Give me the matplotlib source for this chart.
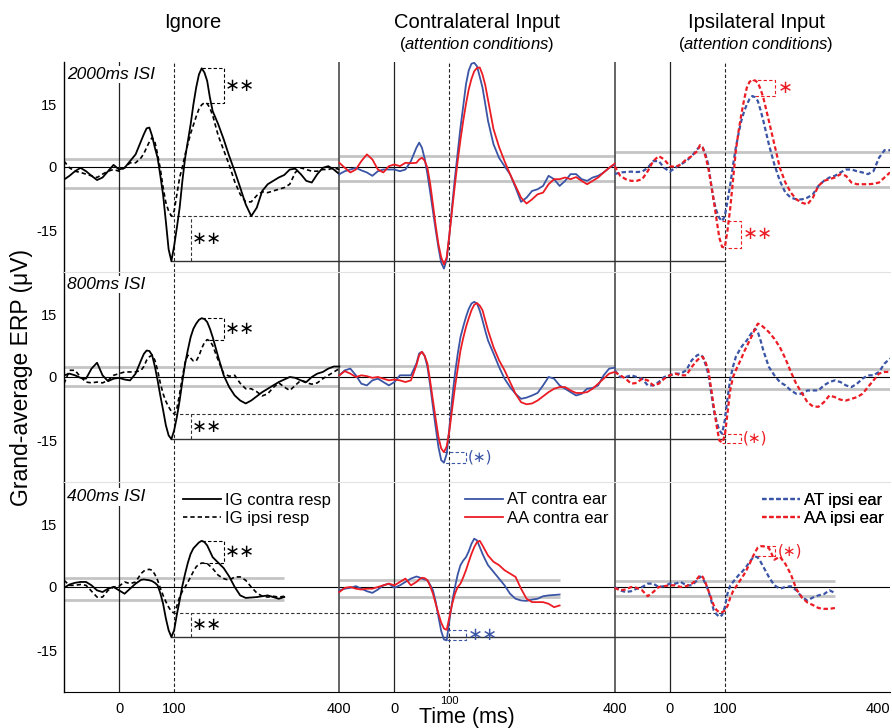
import numpy as np
import matplotlib
matplotlib.use('Agg')
import matplotlib.pyplot as plt
from matplotlib.lines import Line2D
from matplotlib.transforms import blended_transform_factory

plt.rcParams['font.family'] = ['Liberation Sans', 'DejaVu Sans']
plt.rcParams['mathtext.fontset'] = 'custom'
plt.rcParams['mathtext.it'] = 'Liberation Sans:italic'
plt.rcParams['mathtext.rm'] = 'Liberation Sans'

# ---------------- data ----------------
time = list(range(-100, 41, 10)) + list(range(45, 171, 5)) + list(range(180, 401, 10))
time_short = [t for t in time if t <= 300]

panel_titles = ['Ignore', 'Contralateral Input', 'Ipsilateral Input']
isi_labels = ['2000ms ISI', '800ms ISI', '400ms ISI']
legend_labels = [['IG contra resp', 'IG ipsi resp'],
                 ['AT contra ear', 'AA contra ear'],
                 ['AT ipsi ear', 'AA ipsi ear']]
xtick_labels = ['0', '100', '400', '0', '100', '400', '0', '100', '400']
ytick_labels = ['-15', '0', '15']

# row 1: 2000 ms ISI
r1_ig_contra = [-3, -2.1, -1, -0.2, -1, -2.1, -3.1, -2.5, -1, 0.5, -0.6, -0.2, 1.4, 3, 6.2,
                7.8, 9.2, 9.4, 7.4, 4.6, 2.2, -2.1, -6.7, -13, -19.6, -22.4, -18.8, -14.4, -9.7, -3.3, 2.2, 6.2, 10.2, 14.9, 18.9, 22, 23.5, 22.5, 20.5, 16.5, 13.3,
                10.2, 6.6, 2.6, -1, -4.9, -8.9, -11.7, -9.7, -5.7, -4.1, -3.3, -2.5, -1.9, -0.6, -0.4, -1.7, -3.3, -3.7, -1.7, -0.2, 0.2, -0.6, -1.7]
r1_ig_ipsi = [1.4, -0.2, -1, -1.3, -1.7, -2.1, -2.5, -1.7, -1, -0.6, -1, -0.2, 1, 1, 2.2,
              3.2, 4.6, 6, 7, 6, 3, -0.5, -4.9, -8.5, -10.5, -11.7, -10.5, -6.5, -2.5, 0, 3, 5.5, 8, 10, 12, 13.8, 14.8, 15.3, 15.1, 14, 12.3,
              7.5, 4, 0.5, -3.5, -6.5, -8.3, -8.3, -6.8, -5.9, -6.1, -5.7, -5.3, -4.9, -4.1, -1.3, -0.2, -0.6, -1, -1, -0.6, -0.6, -0.2, -0.6]
r1_at_contra = [-1.7, -1, -0.6, -0.2, -0.8, -1.3, -2.1, -1, -0.6, -0.6, -0.6, -1, -0.6, 1.4, 4.6,
                5.8, 4.6, 2, -1.7, -6, -10.5, -15, -19.2, -22.8, -24.2, -22, -16, -9, -2.5, 3.5, 9.4, 14.5, 19.7, 23, 24.6, 24.8, 24, 21.5, 18.9, 15, 11,
                5.4, 2.2, 0.2, -1.7, -4.9, -8.3, -7.3, -5.7, -5.3, -4.5, -2.1, -2.9, -4.5, -3.3, -1.7, -1.7, -2.9, -3.3, -2.5, -2.1, -1.3, -0.2, 0.6]
r1_aa_contra = [1, -0.2, -1.3, -0.6, 1.4, 3, 1.8, -0.6, -1.3, 0.2, 0.6, 0.2, 1, 0.9, 1,
                1.8, 2.2, 1.5, -0.2, -4, -8.9, -14, -18.4, -21.5, -23.2, -21.5, -16, -10, -4.1, 1.5, 6.5, 11, 15, 18.5, 21, 22.8, 23.6, 23.7, 22, 19.5, 16,
                9, 4.8, 1.4, -1.7, -4.5, -7.3, -8.7, -7.7, -6.5, -6.1, -4.1, -2.9, -2.9, -2.5, -2.9, -2.4, -3.3, -4.1, -3.3, -2.5, -1.3, -0.2, 0.8]
r1_at_ipsi = [-1.7, -1.3, -1.2, -1.1, -1.2, -1.1, -0.2, 1.4, 1.4, -0.2, -1.1, -0.2, 0.6, 1.4, 2.6,
              3.4, 4.2, 5, 4.6, 3, 0.6, -4, -8.1, -10.5, -12.1, -12.9, -11.7, -8, -4.1, 0.5, 4.6, 8, 11, 13.2, 14.9, 16.2, 16.9, 16.6, 15.7, 13.5, 11,
              5.4, 0.6, -3.3, -6.1, -7.3, -7.7, -7.7, -7.3, -6.5, -4.5, -3.3, -2.5, -2.1, -1.3, -0.6, -0.6, -1, -1.3, -1.7, -1, 2.2, 4, 4]
r1_aa_ipsi = [0.2, -2.1, -2.9, -3.3, -3.3, -2.9, -1, 1.4, 2.6, 1.8, 0.2, 0, 0.6, 1.8, 2.6,
              3.2, 3.8, 5.2, 4.6, 2.5, -0.2, -4, -8.1, -12.5, -16.8, -19, -19.2, -15, -9.7, -3, 3.8, 8.5, 12.5, 16, 18.9, 20.3, 20.7, 20.6, 20.1, 18.5, 16.5,
              11, 5.4, -0.2, -3.7, -6.1, -7.7, -8.5, -8.9, -7.3, -4.5, -3.3, -2.9, -2.5, -1.7, -2.1, -3.7, -4.1, -4.1, -4.1, -4, -3.7, -2.5, -1.3]

# row 2: 800 ms ISI
r2_ig_contra = [0.4, 0.8, 0.4, -0.2, -0.4, 2, 3.4, 0.4, -1, -0.4, -0.2, -0.6, -0.8, 0.8, 4,
                5.5, 6.3, 6.2, 5.2, 2.5, -0.8, -4.5, -7.9, -11.5, -13.9, -14.8, -12.7, -9.5, -5.6, -1, 3.2, 6.5, 9.5, 11.5, 12.7, 13.6, 14, 13.8, 13.1, 11.5, 9.5,
                4.8, 0.4, -2.4, -4.4, -5.6, -6.3, -5.6, -4.6, -3.6, -2.8, -2, -1.2, -0.6, 0, -0.2, -0.8, -1.2, 0, 0.8, 1.2, 2, 2.5, 2.5]
r2_ig_ipsi = [-1.6, 1.6, 1.6, 0, -1.2, -1.4, -1.2, -1.4, -0.8, 0.4, 0.8, 1.2, 1.2, 1.2, 1.6,
              2.5, 4, 4.8, 5.2, 4, 1.6, -1.5, -4, -5.8, -7.1, -8.2, -8.8, -7.5, -4, 0, 3.5, 5.2, 4.5, 3.8, 3.8, 5, 6.8, 8.2, 8.9, 8.6, 7.5,
              4, 0.8, 0.2, 0.4, -1.5, -2.8, -2.8, -3.5, -4.5, -4, -2.5, -1.4, -2.4, -3.2, -2, -0.8, -1.4, -1.7, -1.4, -0.4, 0.4, 1.2, 2]
r2_at_contra = [0.4, 1.6, 2, 0.4, -1.6, -2, -0.8, -0.4, -1.2, -2, -1.2, 0.4, 0.4, 0.4, 3.2,
                5.6, 6, 5, 2.4, -2, -7.1, -12, -16.7, -19.8, -20.4, -18.3, -11.9, -5, 0.8, 5.5, 9.5, 12, 14.3, 16.2, 17.5, 17.9, 17.5, 15.8, 13.5, 11, 8.7,
                5.6, 2.4, -0.4, -2.4, -4, -5.2, -4.9, -4.4, -3.8, -2, 0, -0.4, -2, -2.8, -3.6, -4.4, -4, -2.8, -2.6, -2, 0.4, 2, 2.2]
r2_aa_contra = [0.4, 1.4, 0.8, 0, 0.4, 0.2, -0.2, 0, -0.4, -0.8, -0.6, -0.8, -1.2, -0.8, 2.8,
                5.2, 6, 5, 3.2, -1, -5.6, -10, -14.3, -17, -17.9, -16.5, -12.7, -7.5, -2.4, 2, 6.3, 9.3, 11.9, 14, 15.9, 17.2, 17.6, 17, 15.9, 13.5, 11.1,
                7.1, 4, 1.6, -1.2, -4, -6, -6.5, -6.3, -5.6, -4.6, -3.6, -2.8, -2.4, -2.4, -3.2, -3.8, -3.8, -3.6, -2.8, -1.6, -0.4, 0.8, 1.2]
r2_at_ipsi = [1.6, 0, 0, 0.4, 0, -0.4, -2, -2, -1.2, 0, 0.4, 0.8, 0.8, 1.6, 4,
              4.6, 5.2, 5.4, 4.8, 3, 0.8, -3.5, -7.9, -10.5, -12.7, -13.5, -10.3, -5, -0.4, 2.5, 4.8, 6, 7.1, 8, 8.7, 9.8, 10.7, 11.5, 10.7, 8.7, 6.3,
              2.4, 0.4, -1.2, -2, -3.2, -4, -4, -3.2, -3.2, -3.2, -2, -1.2, -0.8, -1.2, -2, -2.4, -1.6, -0.4, 0.4, 0.4, 1.2, 3.2, 4.4]
r2_aa_ipsi = [1.2, 0.4, -0.4, -1.6, -1.4, -0.4, -0.8, -2, -1.6, -0.4, 0.4, 0.8, 0.4, 0.4, 2.4,
              3.2, 4, 4.6, 4.8, 3.5, 1.6, -2.5, -7.1, -11.5, -15.1, -15.6, -14, -8.5, -3, 0, 1.6, 3, 4.4, 6, 7.3, 8.7, 10, 11.5, 12.7, 12.5, 11.9,
              10.7, 9.1, 7.1, 4.4, 1.2, -1.7, -3.8, -6, -7, -7.1, -6, -4.4, -4.8, -5.4, -5.6, -5.2, -4.8, -4, -2.4, -0.8, 0.8, 1.2, 1.2]

# row 3: 400 ms ISI (ends at 300 ms)
r3_ig_contra = [-0.2, 0.6, 1, 1.2, 1.2, 0.4, -0.8, -1.2, -0.4, 0, -0.8, -1.6, -0.4, 0.8, 1.7,
                1.8, 1.7, 1.6, 1.4, 1, 0.4, -1.5, -4, -7.5, -10.3, -11.9, -10.3, -6.5, -3.2, 0.3, 3.2, 5.8, 7.9, 9.2, 9.9, 10.6, 11, 10.7, 9.9, 8.5, 7.1,
                5.8, 4.5, 2.5, 0, -2, -2.6, -2.5, -2.4, -2.2, -2, -2.4, -2.8, -2.4]
r3_ig_ipsi = [1.6, 0.4, 0.4, 0.6, 0.4, -1, -2.4, -2.4, -0.8, 0, 0.2, 1.2, 0.8, 1.2, 3.2,
              3.8, 4.1, 4.2, 4, 3, 1.6, -0.3, -2, -3.5, -4.8, -5.8, -6.2, -4.5, -2.4, -1, 0, 1.2, 2.4, 3.7, 4.8, 5.4, 5.7, 5.7, 5.6, 5, 4.4,
              2.8, 2, 1.6, 2.4, 2.4, 1.6, 0, -1.4, -2.2, -2.4, -2.2, -2.4, -2.2]
r3_at_contra = [-0.8, -0.4, -0.2, 0.2, -0.4, -1, -1.4, -0.6, 0.4, 0.8, -0.2, 0.4, 1.2, 2, 2.5,
                2.3, 2, 1.8, 1.6, 0.5, -0.8, -3.5, -7.1, -10.5, -12.5, -12.7, -7.9, -3.5, 0, 3, 5.2, 6.3, 7.1, 8.5, 10.3, 11.5, 11.1, 9.5, 7.9, 6.5, 5.2,
                3.6, 2, 0.4, -1.6, -2.8, -3.2, -3.3, -3, -2.8, -2.2, -2, -1.9, -1.8]
r3_aa_contra = [-1.2, -0.2, 0, -0.4, -0.6, -0.4, -0.4, 0, 0.4, 0.8, 0.4, 1.2, 2, 0.4, 1.2,
                1.8, 2.2, 2.1, 1.6, 0.2, -1.6, -4, -6.3, -8.5, -9.9, -10.2, -7.1, -4, -1.6, 0, 0.8, 2.3, 4, 6, 7.9, 9.5, 10.7, 11, 9.9, 8.7, 7.5,
                6, 5.2, 4, 3.2, 2.4, -0.4, -2.8, -3.6, -3.6, -3.6, -4, -4.8, -4.4]
r3_at_ipsi = [0, -0.8, -1.2, -1, -0.4, 0, 0.8, 0.8, 0, 0.2, 0.8, 0.8, 1.2, 0.4, 0.4,
              1, 1.6, 2.5, 2, 0.8, -0.8, -3, -5.6, -6.5, -7.1, -6.7, -4.8, -1.5, 0.4, 1.2, 2, 2.8, 3.4, 4.2, 5, 6, 6.8, 7.3, 7, 6, 4.8,
              2.4, 0.4, -0.4, 0, 0.2, -0.8, -2.4, -3.2, -2.5, -2, -1.7, -0.8, -1.4]
r3_aa_ipsi = [-0.2, -0.8, -0.6, 0, -0.2, -0.8, -2.2, -1.2, 0, 0.2, 0.4, 0.4, 0, 0.2, 0.8,
              1.3, 2, 2.8, 2.4, 1, -0.8, -2.6, -4.4, -5.5, -6, -6, -5.6, -4.5, -2.5, -1, 0, 1, 2, 3, 4.2, 5.5, 7, 8.3, 9.4, 9.7, 9.7,
              9.3, 6.5, 7.2, 5.5, 3, -0.5, -2.5, -3.7, -4.3, -5, -5.2, -5.2, -5]

# noise bands (upper / lower) per row and panel
band_hi = [[1.8, 2.6, 3.6], [2.5, 2.7, 1.8], [2.1, 1.7, 1.5]]
band_lo = [[-4.9, -3.3, -4.7], [-2.2, -2.6, -2.8], [-3.2, -2.4, -2.2]]

# significance labels
sig_ig_top = ['∗∗', '∗∗', '∗∗']
sig_ig_bottom = ['∗∗', '∗∗', '∗∗']
sig_contra_trough = [None, '(∗)', '∗∗']
sig_ipsi_peak = ['∗', None, '(∗)']
sig_ipsi_trough = ['∗∗', '(∗)', None]

rows = [
    [(r1_ig_contra, r1_ig_ipsi), (r1_at_contra, r1_aa_contra), (r1_at_ipsi, r1_aa_ipsi)],
    [(r2_ig_contra, r2_ig_ipsi), (r2_at_contra, r2_aa_contra), (r2_at_ipsi, r2_aa_ipsi)],
    [(r3_ig_contra, r3_ig_ipsi), (r3_at_contra, r3_aa_contra), (r3_at_ipsi, r3_aa_ipsi)],
]
row_times = [time, time, time_short]

# ---------------- style ----------------
BLUE = '#3B55A6'
RED = '#EC1C24'
DASH = (0, (3, 2))
styles = [
    (dict(color='black', ls='-', lw=1.3), dict(color='black', ls=(0, (2.6, 1.8)), lw=1.2)),
    (dict(color=BLUE, ls='-', lw=1.3), dict(color=RED, ls='-', lw=1.3)),
    (dict(color=BLUE, ls=(0, (2, 1.2)), lw=1.6), dict(color=RED, ls=(0, (2, 1.2)), lw=1.6)),
]
offsets = [0, 500, 1000]
STAR_FONT = ['DejaVu Sans']

fig = plt.figure(figsize=(8.92, 7.28), dpi=100)
FW, FH = 892.0, 728.0
left_px, right_px = 64, 890
row_top_px = [62, 272, 482]
row_h = 210


def extreme(ts, vs, lo, hi, kind):
    ts = np.asarray(ts); vs = np.asarray(vs, dtype=float)
    m = (ts >= lo) & (ts <= hi)
    idx = np.argmax(vs[m]) if kind == 'max' else np.argmin(vs[m])
    return ts[m][idx], vs[m][idx]


def bracket(ax, off, tA, vA, tB, vB, t_end, color, label, fs, gap=3):
    ax.plot([off + tA, off + t_end, off + t_end, off + tB], [vA, vA, vB, vB],
            ls=DASH, lw=0.8, color=color, zorder=2.5)
    if label:
        ax.text(off + t_end + gap, (vA + vB) / 2, label, color=color, ha='left',
                va='center', fontsize=fs, family=STAR_FONT, zorder=5)


axes = []
for r in range(3):
    bottom = 1 - (row_top_px[r] + row_h) / FH
    ax = fig.add_axes([left_px / FW, bottom, (right_px - left_px) / FW, row_h / FH])
    axes.append(ax)
    ax.set_xlim(-100, 1400)
    ax.set_ylim(-25, 25)
    ax.set_yticks([-15, 0, 15])
    ax.set_yticklabels(ytick_labels, fontsize=10.5)
    ax.tick_params(axis='y', length=0, pad=5)
    ax.spines['right'].set_visible(False)
    ax.spines['left'].set_linewidth(1.0)
    if r == 0:
        ax.spines['top'].set_visible(False)
    else:
        ax.spines['top'].set_color('#e2e2e2')
        ax.spines['top'].set_linewidth(0.8)
    if r < 2:
        ax.spines['bottom'].set_visible(False)
        ax.set_xticks([])
    else:
        tick_pos = [off + t for off in offsets for t in (0, 100, 400)]
        ax.set_xticks(tick_pos)
        shown = [lab if i != 4 else '' for i, lab in enumerate(xtick_labels)]
        ax.set_xticklabels(shown, fontsize=10.5)
        ax.tick_params(axis='x', length=0, pad=7)
        ax.get_xticklabels()[-1].set_horizontalalignment('right')
        # the middle panel's "100" is printed small and raised in the original
        trans = blended_transform_factory(ax.transData, ax.transAxes)
        ax.text(tick_pos[4], -0.045, xtick_labels[4], transform=trans, fontsize=8,
                ha='center', va='center')

    ts = row_times[r]
    t_end = ts[-1]
    ax.axhline(0, color='black', lw=0.8, zorder=1.5)
    for p, off in enumerate(offsets):
        ax.hlines([band_hi[r][p], band_lo[r][p]], off - 100, off + t_end,
                  color='#c4c4c4', lw=2.0, zorder=1)
        ax.axvline(off, color='#222222', lw=0.9, zorder=1.5)
        ax.axvline(off + 100, color='#222222', lw=0.8, ls=DASH, zorder=1.5)
        for k in range(2):
            ax.plot([off + t for t in ts], rows[r][p][k], zorder=3, **styles[p][k])
    for sep in (400, 900):
        ax.axvline(sep, color='#4a4a4a', lw=1.2, zorder=1.6)

    ax.text(0.004, 0.94 if r < 2 else 0.93, isi_labels[r], transform=ax.transAxes,
            fontsize=12.5, style='italic', ha='left', va='center', zorder=6,
            bbox=dict(facecolor='white', edgecolor='none', pad=1.0))

    # --- Ignore panel brackets
    contra, ipsi = rows[r][0]
    tA, vA = extreme(ts, contra, 100, 250, 'max')
    tB, vB = extreme(ts, ipsi, 100, 250, 'max')
    bracket(ax, 0, tA, vA, tB, vB, 190, 'black', sig_ig_top[r], 13, gap=2)
    tA, vA = extreme(ts, contra, 50, 150, 'min')
    tB, vB = extreme(ts, ipsi, 50, 150, 'min')
    ax.plot([tA, 1100], [vA, vA], color='#333333', lw=1.0, zorder=2.5)
    ax.plot([tB, 1100], [vB, vB], color='#333333', lw=0.8, ls=DASH, zorder=2.5)
    ax.plot([130, 130], [vA, vB], color='#333333', lw=0.8, ls=DASH, zorder=2.5)
    ax.text(132, (vA + vB) / 2, sig_ig_bottom[r], ha='left', va='center',
            fontsize=13, family=STAR_FONT, zorder=5)

    # --- Contralateral panel trough bracket
    at, aa = rows[r][1]
    if sig_contra_trough[r]:
        tB, vB = extreme(ts, at, 50, 150, 'min')
        tA, vA = extreme(ts, aa, 50, 150, 'min')
        bracket(ax, 500, tA, vA, tB, vB, 130, BLUE, sig_contra_trough[r],
                13 if sig_contra_trough[r] == '∗∗' else 11)

    # --- Ipsilateral panel brackets
    at, aa = rows[r][2]
    if sig_ipsi_peak[r]:
        tA, vA = extreme(ts, aa, 100, 250, 'max')
        tB, vB = extreme(ts, at, 100, 250, 'max')
        bracket(ax, 1000, tA, vA, tB, vB, 192, RED, sig_ipsi_peak[r],
                13 if sig_ipsi_peak[r] == '∗' else 11, gap=5)
    if sig_ipsi_trough[r]:
        tA, vA = extreme(ts, at, 50, 150, 'min')
        tB, vB = extreme(ts, aa, 50, 150, 'min')
        bracket(ax, 1000, tA, vA, tB, vB, 130, RED, sig_ipsi_trough[r],
                13 if sig_ipsi_trough[r] == '∗∗' else 11)

# legends in bottom row
ax3 = axes[2]
leg_x = [(183 - 64) / 826, (465 - 64) / 826, (762 - 64) / 826]
for p in range(3):
    handles = [Line2D([], [], **styles[p][k]) for k in range(2)]
    leg = ax3.legend(handles, legend_labels[p], loc='upper left',
                     bbox_to_anchor=(leg_x[p], 0.95), frameon=False, fontsize=12,
                     handlelength=2.3, handletextpad=0.2, labelspacing=0.2,
                     borderpad=0, borderaxespad=0)
    ax3.add_artist(leg)

# titles and axis labels
title_x = [193, 477, 756]
for p in range(3):
    fig.text(title_x[p] / FW, 1 - 23 / FH, panel_titles[p], ha='center', va='center', fontsize=14.5)
    if p > 0:
        fig.text(title_x[p] / FW, 1 - 45 / FH, r'($\mathit{attention\ conditions}$)',
                 ha='center', va='center', fontsize=12)
fig.text(22 / FW, 1 - 377 / FH, 'Grand-average ERP (μV)', rotation=90,
         ha='center', va='center', fontsize=16.5)
fig.text(467 / FW, 1 - 717 / FH, 'Time (ms)', ha='center', va='center', fontsize=15.5)

fig.savefig('out.png', dpi=100)
